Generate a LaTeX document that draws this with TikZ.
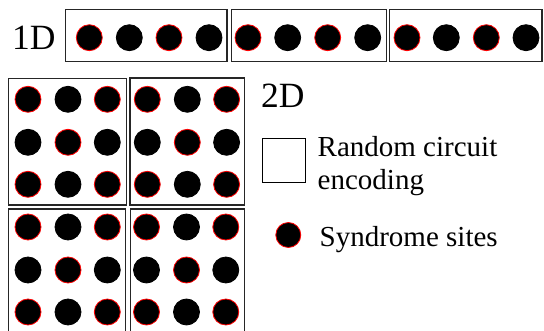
\documentclass[tikz,border=0pt]{standalone}
\usepackage{fontspec}
\setmainfont{Liberation Serif}
\begin{document}
\begin{tikzpicture}[x=1pt,y=-1pt,
  box/.style={draw=black!85,line width=1.3pt,fill=none,inner sep=0pt},
  site/.style={circle,fill=black,draw=black,line width=0.8pt,minimum size=26pt,inner sep=0pt},
  rsite/.style={site,draw=red},
  lbl/.style={anchor=base west,inner sep=0pt,text=black},
  big/.style={font=\fontsize{35.5}{40}\selectfont},
  small/.style={font=\fontsize{29}{33}\selectfont}]
\useasboundingbox (0,0) rectangle (544,331);
\clip (0,0) rectangle (544,331);
% 1D
\node[lbl,big] (t1d) at (12,50) {1D};
\node[box,minimum width=161.3pt,minimum height=52pt] (b1) at (146.3,35.7) {};
\node[box,minimum width=154.6pt,minimum height=52pt] (b2) at (309,35.7) {};
\node[box,minimum width=152.3pt,minimum height=52pt] (b3) at (465.8,35.7) {};
\foreach \x/\s [count=\i] in {89.3/rsite,129.3/site,169/rsite,209/site,
  248/rsite,287.7/site,327.7/rsite,367.7/site,
  407/rsite,446.3/site,486.3/rsite,526/site}
  \node[\s] (a\i) at (\x,37.7) {};
% 2D boxes
\node[box,minimum width=117.6pt,minimum height=126.7pt] (q1) at (67.5,141.7) {};
\node[box,minimum width=114.3pt,minimum height=127pt] (q2) at (187.2,141.5) {};
\node[box,minimum width=116.6pt,minimum height=131pt] (q3) at (67,274.5) {};
\node[box,minimum width=114.4pt,minimum height=131pt] (q4) at (187.5,274.5) {};
% 2D sites
\foreach \bx/\by/\n in {0/0/p,119.3/0/q,0/127.7/r,118.5/127.7/s}{
  \foreach \cx [count=\ci from 0] in {28,68,107.3}{
    \foreach \cy [count=\ri from 0] in {99.3,142.3,184.3}{
      \pgfmathtruncatemacro{\myparity}{mod(\ci+\ri,2)}
      \ifnum\myparity=0
        \node[rsite] (\n\ci\ri) at (\cx+\bx,\cy+\by) {};
      \else
        \node[site] (\n\ci\ri) at (\cx+\bx,\cy+\by) {};
      \fi
    }
  }
}
% legend
\node[lbl,big] (t2d) at (261,107.3) {2D};
\node[draw=black,line width=1.1pt,minimum width=42.7pt,minimum height=44.4pt,inner sep=0pt] (lsq) at (283.7,160.5) {};
\node[lbl,small] (lt1) at (317.5,156.5) {Random circuit};
\node[lbl,small] (lt2) at (317.5,190) {encoding};
\node[rsite,minimum size=25pt] (lc) at (288.3,235) {};
\node[lbl,small] (lt3) at (319.5,247) {Syndrome sites};
\end{tikzpicture}
\end{document}
